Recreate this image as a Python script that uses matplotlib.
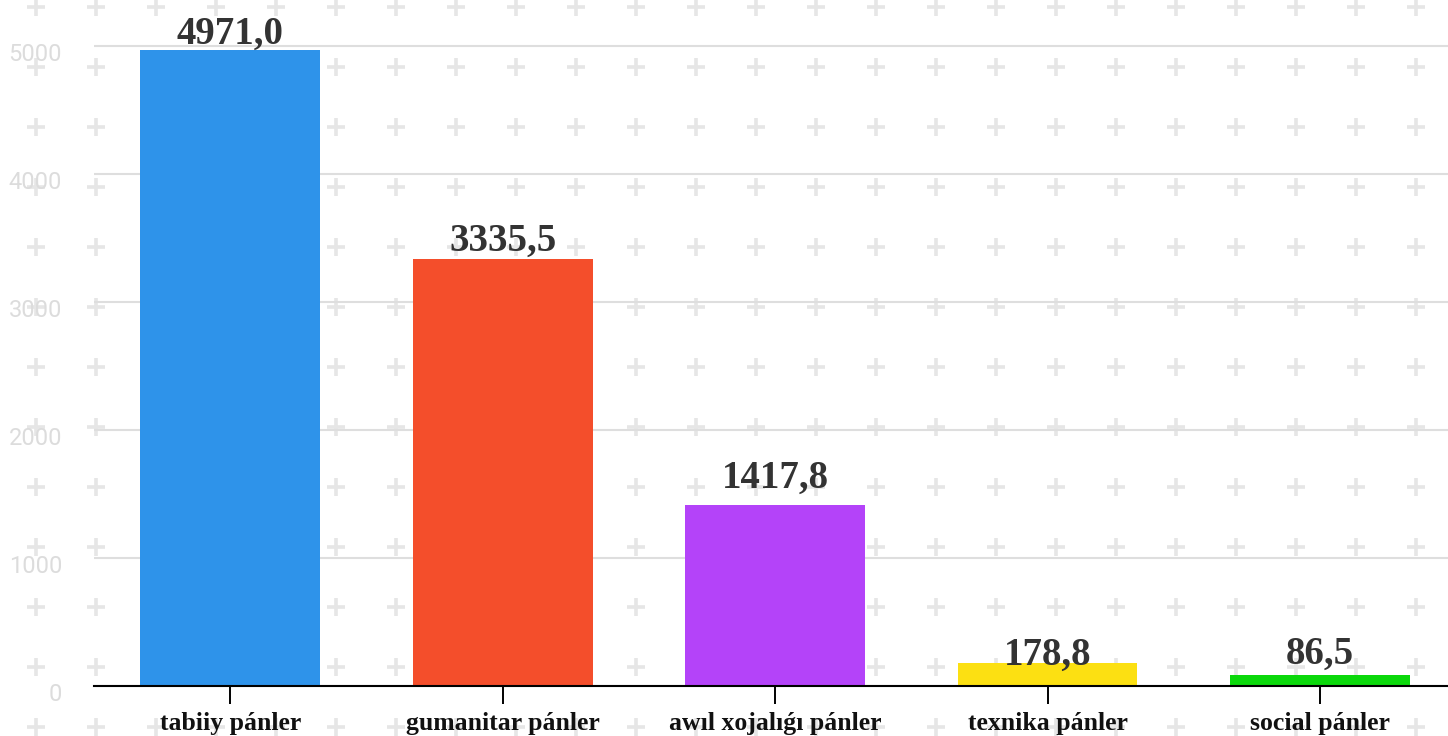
import numpy as np
import matplotlib
matplotlib.use("Agg")
import matplotlib.pyplot as plt

# data
categories = ["tabiiy pánler", "gumanitar pánler", "awıl xojalıǵı pánler",
              "texnika pánler", "social pánler"]
values = [4971.0, 3335.5, 1417.8, 178.8, 86.5]
colors = ["#2E93EA", "#F44E2B", "#B443F9", "#FCE012", "#0BD80B"]
yticks = [0, 1000, 2000, 3000, 4000, 5000]

# label distance above bar (points)
label_pad = [4, 6, 12, -1, 8]

W, H = 1448, 736
fig = plt.figure(figsize=(W / 100, H / 100), dpi=100)

# background with plus pattern
bg = fig.add_axes([0, 0, 1, 1], zorder=0)
bg.set_xlim(0, W)
bg.set_ylim(H, 0)
bg.axis("off")
px, py = np.meshgrid(np.arange(36, W, 60), np.arange(7, H, 60))
bg.plot(px.ravel(), py.ravel(), ls="none", marker="+", ms=13, mew=2.6,
        color="#e6e6e6")

ax = fig.add_axes([94 / W, 1 - 686 / H, 1 - 94 / W, 686 / H], zorder=1)
ax.patch.set_alpha(0)

x = np.arange(len(categories))
bars = ax.bar(x, values, width=0.66, color=colors, zorder=3)

ax.set_xlim(-0.5, 4.47)
ax.set_ylim(0, 686 / 128 * 1000)

# y axis: grid lines, labels drawn a little below each line
ax.set_yticks(yticks)
ax.tick_params(axis="y", length=0, labelleft=False)
ax.yaxis.grid(True, color="#dedede", lw=1.5, zorder=0)
ax.set_axisbelow(True)
for v in yticks:
    ax.annotate(str(v), (0, v), xycoords=ax.get_yaxis_transform(),
                xytext=(-23, -4), textcoords="offset points",
                ha="right", va="center_baseline", fontfamily="Roboto",
                fontsize=17, color="#dcdcdc", annotation_clip=False)

ax.set_xticks(x)
ax.set_xticklabels(categories, fontfamily="Liberation Serif",
                   fontweight="bold", fontsize=18.5, color="#111111")
ax.tick_params(axis="x", length=13, width=1.4, color="black", pad=6)

for s in ["left", "right", "top"]:
    ax.spines[s].set_visible(False)
ax.spines["bottom"].set_linewidth(1.5)
ax.spines["bottom"].set_zorder(4)

for b, v, p in zip(bars, values, label_pad):
    ax.annotate(f"{v:.1f}".replace(".", ","),
                (b.get_x() + b.get_width() / 2, v),
                xytext=(0, p), textcoords="offset points",
                ha="center", va="baseline", fontfamily="Liberation Serif",
                fontweight="bold", fontsize=28, color="#333333", zorder=5)

fig.savefig("out.png", dpi=100)
